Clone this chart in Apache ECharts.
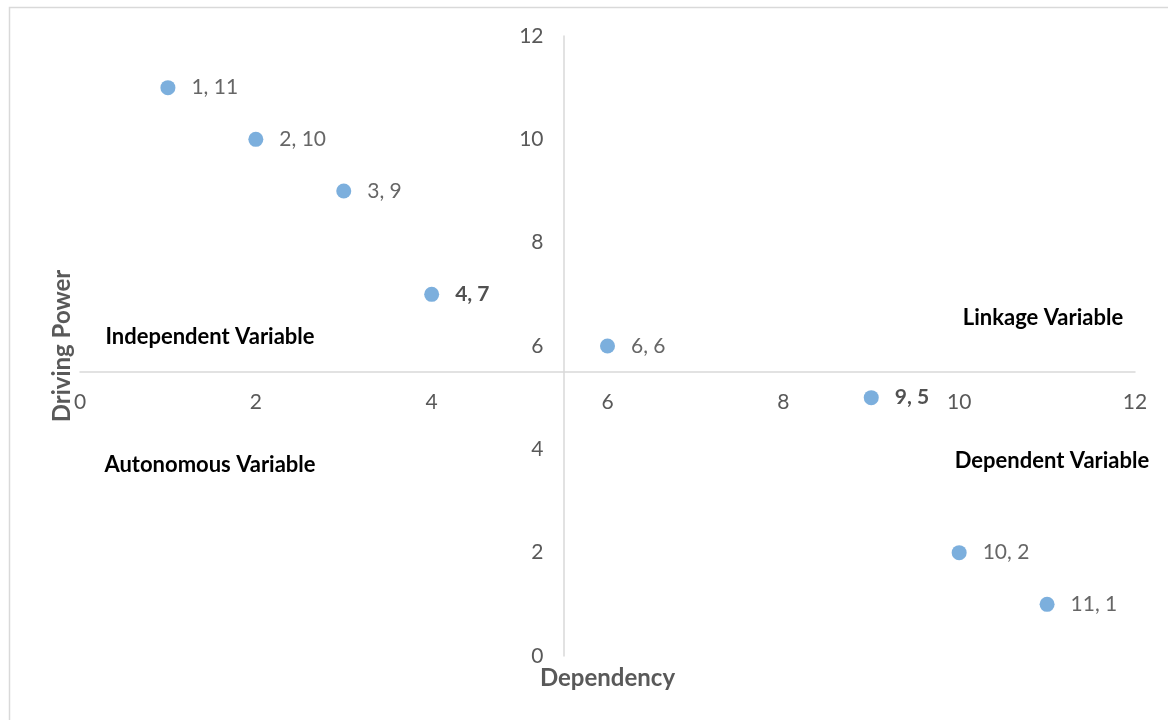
<!DOCTYPE html>
<html>
<head>
<meta charset="utf-8">
<script src="https://cdn.jsdelivr.net/npm/echarts@6/dist/echarts.min.js"></script>
<style>
  html, body { margin: 0; padding: 0; background: #fff; }
  #chart { width: 1168px; height: 720px; }
</style>
</head>
<body>
<div id="chart"></div>
<script>
// MICMAC-style plot: dependency (x) against driving power (y)
const dependency = [1, 2, 3, 4, 6, 9, 10, 11];
const drivingPower = [11, 10, 9, 7, 6, 5, 2, 1];
const axisTicks = [0, 2, 4, 6, 8, 10, 12];
const quadrantNames = ['Independent Variable', 'Linkage Variable', 'Autonomous Variable', 'Dependent Variable'];
const crossAt = 5.5; // where the two axes cross
const strongLabels = [3, 5]; // points whose labels are set in semibold

const FONT = 'Lato, "Open Sans", sans-serif';
const W = 1168, H = 720;
const grid = { left: 80, right: 33, top: 36, bottom: 64 };
const gw = W - grid.left - grid.right;
const gh = H - grid.top - grid.bottom;
const xMin = axisTicks[0], xMax = axisTicks[axisTicks.length - 1];
const yMin = axisTicks[0], yMax = axisTicks[axisTicks.length - 1];
const xCrossPx = (crossAt - xMin) / (xMax - xMin) * gw;
const yCrossPx = (crossAt - yMin) / (yMax - yMin) * gh;

const points = dependency.map((x, i) => {
  const item = { value: [x, drivingPower[i]] };
  if (strongLabels.includes(i)) {
    item.label = { fontWeight: 'bold', color: '#262626' };
  }
  return item;
});

const titleStyle = { color: '#595959', fontSize: 24, fontWeight: 'bold', fontFamily: FONT };
const tickStyle = { color: '#595959', fontSize: 21, fontFamily: FONT, margin: 20 };

const chart = echarts.init(document.getElementById('chart'), null, { renderer: 'canvas' });
chart.setOption({
  backgroundColor: '#fff',
  animation: false,
  grid: grid,
  xAxis: {
    type: 'value',
    min: xMin, max: xMax, interval: 2,
    offset: -yCrossPx,
    axisLine: { show: true, lineStyle: { color: '#d9d9d9', width: 1.5 } },
    axisTick: { show: false },
    splitLine: { show: false },
    axisLabel: tickStyle,
    name: 'Dependency',
    nameLocation: 'middle',
    nameGap: yCrossPx + 10,
    nameTextStyle: titleStyle
  },
  yAxis: {
    type: 'value',
    min: yMin, max: yMax, interval: 2,
    offset: -xCrossPx,
    axisLine: { show: true, lineStyle: { color: '#d9d9d9', width: 1.5 } },
    axisTick: { show: false },
    splitLine: { show: false },
    axisLabel: tickStyle,
    name: 'Driving Power',
    nameLocation: 'middle',
    nameRotate: 90,
    nameGap: xCrossPx + 6,
    nameTextStyle: titleStyle
  },
  series: [{
    type: 'scatter',
    symbol: 'circle',
    symbolSize: 15,
    itemStyle: { color: '#5b9bd5' },
    data: points,
    label: {
      show: true,
      position: 'right',
      distance: 16,
      color: '#404040',
      fontSize: 21,
      fontFamily: FONT,
      formatter: p => p.value[0] + ', ' + p.value[1]
    }
  }],
  graphic: [
    {
      type: 'rect', silent: true, z: -1,
      shape: { x: 9.5, y: 7.5, width: W, height: H },
      style: { fill: 'none', stroke: '#d9d9d9', lineWidth: 1.5 }
    },
    { type: 'text', x: 210, y: 337, style: { text: quadrantNames[0], align: 'center', verticalAlign: 'middle', fill: '#000', font: 'bold 22px ' + FONT } },
    { type: 'text', x: 1043, y: 318, style: { text: quadrantNames[1], align: 'center', verticalAlign: 'middle', fill: '#000', font: 'bold 22px ' + FONT } },
    { type: 'text', x: 210, y: 465, style: { text: quadrantNames[2], align: 'center', verticalAlign: 'middle', fill: '#000', font: 'bold 22px ' + FONT } },
    { type: 'text', x: 1052, y: 461, style: { text: quadrantNames[3], align: 'center', verticalAlign: 'middle', fill: '#000', font: 'bold 22px ' + FONT } }
  ]
});
</script>
</body>
</html>
